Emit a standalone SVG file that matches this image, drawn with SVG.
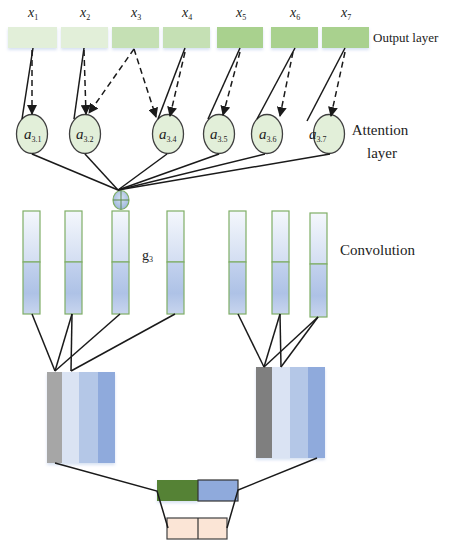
<svg xmlns="http://www.w3.org/2000/svg" width="451" height="550" viewBox="0 0 451 550">
<defs>
<style>
.lbl{font-family:"Liberation Serif","Times New Roman","DejaVu Serif",serif;fill:#222;}
.it{font-style:italic;}
.ln{stroke:#1a1a1a;stroke-width:1.5;fill:none;}
.ds{stroke:#1a1a1a;stroke-width:1.5;fill:none;stroke-dasharray:6,4;}
.att{fill:#e2efd9;stroke:#404040;stroke-width:1.3;}
.col{stroke:#7fae66;stroke-width:1.2;}
.g1{fill:#e2efd9;}
.g2{fill:#c5e0b4;}
.g3{fill:#a9d18e;}
</style>
<marker id="ah" viewBox="0 0 10 10" refX="9" refY="5" markerWidth="10" markerHeight="10" markerUnits="userSpaceOnUse" orient="auto">
<path d="M0,0 L10,5 L0,10 z" fill="#1a1a1a"/>
</marker>
<linearGradient id="topg" x1="0" y1="0" x2="0" y2="1">
<stop offset="0" stop-color="#f4f7fc"/>
<stop offset="1" stop-color="#d3def2"/>
</linearGradient>
<linearGradient id="botg" x1="0" y1="0" x2="0" y2="1">
<stop offset="0" stop-color="#c3d2ee"/>
<stop offset="0.6" stop-color="#aec2e6"/>
<stop offset="1" stop-color="#c8d5ee"/>
</linearGradient>
<radialGradient id="plg" cx="0.5" cy="0.4" r="0.6">
<stop offset="0" stop-color="#d6e2f3"/>
<stop offset="1" stop-color="#9db6dc"/>
</radialGradient>
<filter id="sh" x="-20%" y="-20%" width="140%" height="150%">
<feDropShadow dx="0" dy="2" stdDeviation="1.5" flood-color="#8faadc" flood-opacity="0.35"/>
</filter>
</defs>

<g id="output-layer">
<rect class="g1" x="8" y="27" width="49" height="21" filter="url(#sh)"/>
<rect class="g1" x="61" y="27" width="47" height="21" filter="url(#sh)"/>
<rect class="g2" x="112" y="27" width="47" height="21" filter="url(#sh)"/>
<rect class="g2" x="163" y="27" width="47" height="21" filter="url(#sh)"/>
<rect class="g3" x="217" y="27" width="46" height="21" filter="url(#sh)"/>
<rect class="g3" x="271" y="27" width="47" height="21" filter="url(#sh)"/>
<rect class="g3" x="322" y="27" width="47" height="21" filter="url(#sh)"/>
<text class="lbl it" x="28" y="17" font-size="14">x<tspan font-size="8" dy="3" font-style="normal">1</tspan></text>
<text class="lbl it" x="80" y="17" font-size="14">x<tspan font-size="8" dy="3" font-style="normal">2</tspan></text>
<text class="lbl it" x="131" y="17" font-size="14">x<tspan font-size="8" dy="3" font-style="normal">3</tspan></text>
<text class="lbl it" x="182" y="17" font-size="14">x<tspan font-size="8" dy="3" font-style="normal">4</tspan></text>
<text class="lbl it" x="236" y="17" font-size="14">x<tspan font-size="8" dy="3" font-style="normal">5</tspan></text>
<text class="lbl it" x="290" y="17" font-size="14">x<tspan font-size="8" dy="3" font-style="normal">6</tspan></text>
<text class="lbl it" x="341" y="17" font-size="14">x<tspan font-size="8" dy="3" font-style="normal">7</tspan></text>
<text class="lbl" x="373" y="42" font-size="13">Output layer</text>
</g>

<g id="attention-layer">
<ellipse class="att" cx="32" cy="134" rx="15.5" ry="19.5"/>
<ellipse class="att" cx="85" cy="134" rx="15.5" ry="19.5"/>
<ellipse class="att" cx="168" cy="134" rx="15.5" ry="19.5"/>
<ellipse class="att" cx="219" cy="134" rx="15.5" ry="19.5"/>
<ellipse class="att" cx="267" cy="134" rx="15.5" ry="19.5"/>
<ellipse class="att" cx="329" cy="134" rx="15.5" ry="19.5"/>
<text class="lbl it" x="24" y="139" font-size="15" fill="#4a4a3a">a<tspan font-size="8" dy="3" font-style="normal">3.1</tspan></text>
<text class="lbl it" x="76" y="139" font-size="15" fill="#4a4a3a">a<tspan font-size="8" dy="3" font-style="normal">3.2</tspan></text>
<text class="lbl it" x="159" y="139" font-size="15" fill="#4a4a3a">a<tspan font-size="8" dy="3" font-style="normal">3.4</tspan></text>
<text class="lbl it" x="210" y="139" font-size="15" fill="#4a4a3a">a<tspan font-size="8" dy="3" font-style="normal">3.5</tspan></text>
<text class="lbl it" x="259" y="139" font-size="15" fill="#4a4a3a">a<tspan font-size="8" dy="3" font-style="normal">3.6</tspan></text>
<text class="lbl it" x="309" y="139" font-size="15" fill="#666">a<tspan font-size="8" dy="3" font-style="normal">3.7</tspan></text>
<text class="lbl" x="380" y="135" font-size="15" text-anchor="middle">Attention</text>
<text class="lbl" x="382" y="158" font-size="15" text-anchor="middle">layer</text>
</g>

<g id="sum-node">
<ellipse cx="121" cy="200" rx="8" ry="9.5" fill="url(#plg)" stroke="#7fae66" stroke-width="1.2"/>
<line x1="113" y1="200" x2="129" y2="200" stroke="#5a8a4a" stroke-width="1"/>
<line x1="121" y1="190.5" x2="121" y2="209.5" stroke="#5a8a4a" stroke-width="1"/>
</g>

<g id="convolution">
<g id="col1"><rect class="col" x="23" y="211" width="17" height="51" fill="url(#topg)"/><rect class="col" x="23" y="262" width="17" height="52" fill="url(#botg)"/></g>
<g id="col2"><rect class="col" x="65" y="211" width="17" height="51" fill="url(#topg)"/><rect class="col" x="65" y="262" width="17" height="52" fill="url(#botg)"/></g>
<g id="col3"><rect class="col" x="112" y="211" width="17" height="51" fill="url(#topg)"/><rect class="col" x="112" y="262" width="17" height="52" fill="url(#botg)"/></g>
<g id="col4"><rect class="col" x="167" y="211" width="17" height="51" fill="url(#topg)"/><rect class="col" x="167" y="262" width="17" height="52" fill="url(#botg)"/></g>
<g id="col5"><rect class="col" x="229" y="211" width="17" height="51" fill="url(#topg)"/><rect class="col" x="229" y="262" width="17" height="52" fill="url(#botg)"/></g>
<g id="col6"><rect class="col" x="272" y="211" width="17" height="51" fill="url(#topg)"/><rect class="col" x="272" y="262" width="17" height="52" fill="url(#botg)"/></g>
<g id="col7"><rect class="col" x="310" y="213" width="17" height="51" fill="url(#topg)"/><rect class="col" x="310" y="264" width="17" height="53" fill="url(#botg)"/></g>
<text class="lbl" x="142" y="260" font-size="14" fill="#444">g<tspan font-size="8" dy="2">3</tspan></text>
<text class="lbl" x="340" y="255" font-size="15">Convolution</text>
</g>

<g id="pool-left" filter="url(#sh)">
<rect x="47" y="372" width="15" height="91" fill="#a6a6a6"/>
<rect x="62" y="372" width="17" height="91" fill="#dae3f3"/>
<rect x="79" y="372" width="19" height="91" fill="#b4c7e7"/>
<rect x="98" y="372" width="17" height="91" fill="#8faadc"/>
</g>

<g id="pool-right" filter="url(#sh)">
<rect x="256" y="367" width="16" height="91" fill="#7f7f7f"/>
<rect x="272" y="367" width="18" height="91" fill="#dae3f3"/>
<rect x="290" y="367" width="18" height="91" fill="#b4c7e7"/>
<rect x="308" y="367" width="17" height="91" fill="#8faadc"/>
</g>

<g id="concat">
<rect x="157" y="480" width="41" height="21" fill="#548235" filter="url(#sh)"/>
<rect x="198" y="480" width="40" height="21" fill="#8faadc" stroke="#333" stroke-width="1.2"/>
</g>

<g id="output">
<rect x="167" y="518" width="60" height="21" fill="#fbe5d6" stroke="#404040" stroke-width="1.2"/>
<line x1="198" y1="518" x2="198" y2="539" stroke="#333" stroke-width="1.2"/>
</g>

<g id="connectors">
<line class="ln" x1="33" y1="48" x2="22" y2="119"/>
<line class="ln" x1="84" y1="48" x2="74" y2="119"/>
<line class="ln" x1="185" y1="48" x2="158" y2="119"/>
<line class="ln" x1="240" y1="48" x2="208" y2="119"/>
<line class="ln" x1="295" y1="48" x2="257" y2="119"/>
<line class="ln" x1="345" y1="48" x2="307" y2="121"/>
<line class="ds" x1="32" y1="50" x2="32" y2="114" marker-end="url(#ah)"/>
<line class="ds" x1="84" y1="50" x2="86" y2="114" marker-end="url(#ah)"/>
<line class="ds" x1="134" y1="49" x2="89" y2="113" marker-end="url(#ah)"/>
<line class="ds" x1="134" y1="49" x2="156" y2="117" marker-end="url(#ah)"/>
<line class="ds" x1="185" y1="52" x2="170" y2="116" marker-end="url(#ah)"/>
<line class="ds" x1="240" y1="52" x2="223" y2="115" marker-end="url(#ah)"/>
<line class="ds" x1="293" y1="52" x2="280" y2="116" marker-end="url(#ah)"/>
<line class="ds" x1="345" y1="52" x2="331" y2="116" marker-end="url(#ah)"/>
<line class="ln" x1="32" y1="154" x2="118" y2="190"/>
<line class="ln" x1="85" y1="154" x2="118" y2="190"/>
<line class="ln" x1="167" y1="154" x2="118" y2="190"/>
<line class="ln" x1="219" y1="154" x2="118" y2="190"/>
<line class="ln" x1="265" y1="154" x2="118" y2="190"/>
<line class="ln" x1="330" y1="154" x2="118" y2="190"/>
<line class="ln" x1="32" y1="314" x2="55" y2="371"/>
<line class="ln" x1="72" y1="314" x2="55" y2="371"/>
<line class="ln" x1="72" y1="314" x2="71" y2="371"/>
<line class="ln" x1="120" y1="314" x2="55" y2="371"/>
<line class="ln" x1="175" y1="314" x2="71" y2="371"/>
<line class="ln" x1="238" y1="314" x2="264" y2="367"/>
<line class="ln" x1="280" y1="314" x2="264" y2="367"/>
<line class="ln" x1="280" y1="314" x2="281" y2="367"/>
<line class="ln" x1="318" y1="317" x2="264" y2="367"/>
<line class="ln" x1="318" y1="317" x2="281" y2="367"/>
<polyline class="ln" points="55,463 157,491 168,528"/>
<polyline class="ln" points="317,458 238,490 227,528"/>
</g>
</svg>
